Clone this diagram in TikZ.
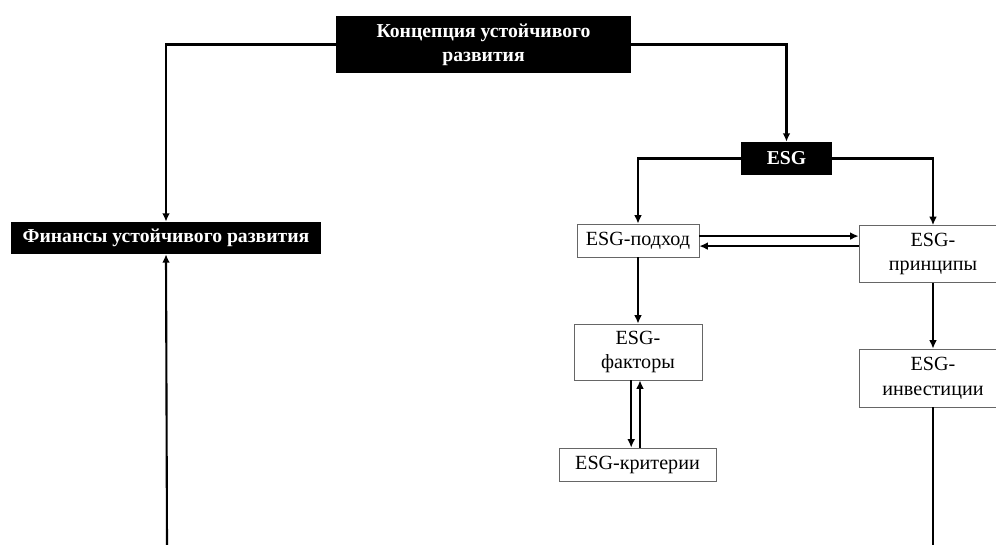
\documentclass[tikz,border=0pt]{standalone}
\usepackage{fontspec}
\setmainfont{Liberation Serif}
\usetikzlibrary{arrows.meta}

\begin{document}
\begin{tikzpicture}[x=0.025cm,y=-0.025cm,
    blackbox/.style={fill=black, text=white, font=\fontsize{14}{17}\selectfont\bfseries, align=center, inner sep=0pt},
    whitebox/.style={draw=black!60, line width=0.5pt, fill=white, font=\fontsize{14.3}{17.5}\selectfont, align=center, inner sep=0pt},
    link/.style={line width=1.5pt},
    arr/.style={link, -{Latex[length=6pt,width=5.5pt]}}]
    \useasboundingbox (0,0) rectangle (996,545);

    % top level
    \node[blackbox, minimum width=7.375cm, minimum height=1.425cm] (concept) at (483.5,44.5) {Концепция устойчивого\\развития};
    \node[blackbox, minimum width=7.75cm, minimum height=0.8cm] (finance) at (166,238) {Финансы устойчивого развития};
    \node[blackbox, minimum width=2.275cm, minimum height=0.825cm] (esg) at (786.5,158.5) {ESG};

    % ESG branch
    \node[whitebox, minimum width=3.05cm, minimum height=0.825cm] (approach) at (638,240.5) {ESG-подход};
    \node[whitebox, minimum width=3.7cm, minimum height=1.425cm] (principles) at (933,254) {ESG-\\принципы};
    \node[whitebox, minimum width=3.2cm, minimum height=1.4cm] (factors) at (638,352) {ESG-\\факторы};
    \node[whitebox, minimum width=3.925cm, minimum height=0.825cm] (criteria) at (637.5,464.5) {ESG-критерии};
    \node[whitebox, minimum width=3.7cm, minimum height=1.45cm] (invest) at (933,378) {ESG-\\инвестиции};

    \coordinate (finbottom) at (167,545);
    \coordinate (invbottom) at (933,545);

    \draw[arr] (concept.west) -| (finance.north);
    \draw[arr] (concept.east) -| (esg.north);
    \draw[arr] (esg.west) -| (approach.north);
    \draw[arr] (esg.east) -| (principles.north);

    \draw[arr] ([yshift=0.11cm]approach.east) -- ([yshift=0.11cm]approach.east -| principles.west);
    \draw[arr] ([yshift=-0.14cm]approach.east -| principles.west) -- ([yshift=-0.14cm]approach.east);

    \draw[arr] (approach.south) -- (factors.north);
    \draw[arr] ([xshift=-0.17cm]factors.south) -- ([xshift=-0.17cm]factors.south |- criteria.north);
    \draw[arr] ([xshift=0.05cm]factors.south |- criteria.north) -- ([xshift=0.05cm]factors.south);

    \draw[arr] (principles.south) -- (invest.north);
    \draw[link] (invest.south) -- (invbottom);
    \draw[arr] (finbottom) -- (finance.south);
\end{tikzpicture}
\end{document}
